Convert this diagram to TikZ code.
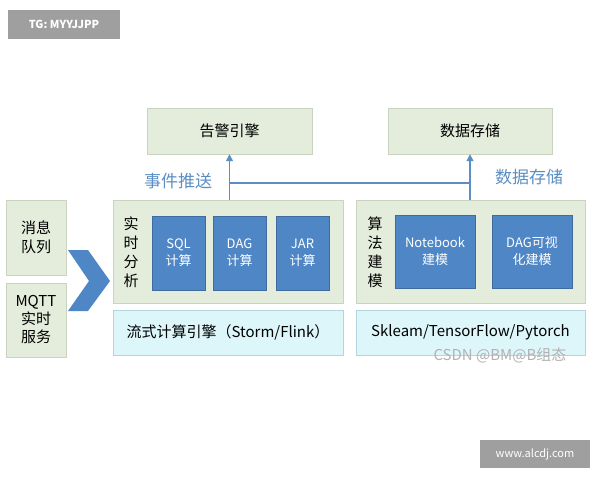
\documentclass[tikz,border=0pt]{standalone}
\usepackage{fontspec}
\setmainfont{Noto Sans CJK SC}
\usetikzlibrary{arrows.meta}
\definecolor{panel}{HTML}{E4ECDC}
\definecolor{panelline}{HTML}{C9D3C0}
\definecolor{calc}{HTML}{4F86C6}
\definecolor{engine}{HTML}{DDF6FA}
\definecolor{engineline}{HTML}{B5D5DC}
\definecolor{flow}{HTML}{5B8FC4}
\tikzset{
  panelbox/.style={draw=panelline,fill=panel,rectangle},
  calcbox/.style={draw=calc!80!black,fill=calc,text=white,align=center,font=\fontsize{13}{17}\selectfont},
  enginebox/.style={draw=engineline,fill=engine,font=\fontsize{15}{17}\selectfont},
  flowarrow/.style={-{Triangle[length=7pt,width=7pt]},flow,line width=1.2pt}
}
\begin{document}
\begin{tikzpicture}[x=1pt,y=-1pt]

% white background
\fill[white] (0,0) rectangle (600,480);
\useasboundingbox (0,0) rectangle (600,480);

% watermark tags
\fill[gray!75] (8,10) rectangle (120,39);
\node[text=white,font=\fontsize{11}{12}\selectfont\bfseries] (tag) at (64,24.5) {TG: MYYJJPP};
\fill[gray!75] (480,440) rectangle (590,468);
\node[text=white,font=\fontsize{11}{12}\selectfont] (site) at (535,454) {www.alcdj.com};

% output targets
\node[panelbox,minimum width=165pt,minimum height=46pt,font=\fontsize{15}{17}\selectfont] (alarm) at (229.5,131) {告警引擎};
\node[panelbox,minimum width=164pt,minimum height=46pt,font=\fontsize{15}{17}\selectfont] (store) at (470,131) {数据存储};

% inputs
\node[panelbox,minimum width=60pt,minimum height=75pt,align=center,font=\fontsize{15}{19}\selectfont] (queue) at (36,237.5) {消息\\队列};
\node[panelbox,minimum width=60pt,minimum height=74pt,align=center,font=\fontsize{15}{18}\selectfont] (mqtt) at (36,320) {MQTT\\实时\\服务};
\fill[calc] (68,250) -- (88,250) -- (110,281) -- (88,311) -- (68,311) -- (89,281) -- cycle;

% realtime analysis
\node[panelbox,minimum width=230pt,minimum height=103pt] (rt) at (228,251.5) {};
\node[align=center,font=\fontsize{15}{19}\selectfont] (rtlabel) at (131,252) {实\\时\\分\\析};
\node[calcbox,minimum width=53pt,minimum height=74pt] (sql) at (178.5,253) {SQL\\计算};
\node[calcbox,minimum width=53pt,minimum height=74pt] (dag) at (239.5,253) {DAG\\计算};
\node[calcbox,minimum width=53pt,minimum height=74pt] (jar) at (302.5,253) {JAR\\计算};
\node[enginebox,minimum width=230pt,minimum height=45pt] (storm) at (228,332.5) {流式计算引擎（Storm/Flink）};

% modelling
\node[panelbox,minimum width=229pt,minimum height=103pt] (ml) at (470.5,251.5) {};
\node[align=center,font=\fontsize{15}{19}\selectfont] (mllabel) at (375,252) {算\\法\\建\\模};
\node[calcbox,minimum width=80pt,minimum height=73pt] (nb) at (435,251.5) {Notebook\\建模};
\node[calcbox,minimum width=80pt,minimum height=73pt] (vis) at (532,251.5) {DAG可视\\化建模};
\node[enginebox,minimum width=229pt,minimum height=45pt] (sk) at (470.5,332.5) {Skleam/TensorFlow/Pytorch};

% connectors
\coordinate (split) at (alarm.south |- 0,183);
\draw[flowarrow] (rt.north -| alarm.south) -- (alarm.south);
\draw[flow,line width=1.2pt] (split) -- (split -| store.south);
\draw[flowarrow] (ml.north -| store.south) -- (store.south);
\node[text=flow,font=\fontsize{17}{19}\selectfont] (push) at (178,181) {事件推送};
\node[text=flow,font=\fontsize{17}{19}\selectfont] (save) at (529,177) {数据存储};

% csdn mark
\node[text=gray!60,font=\fontsize{15}{17}\selectfont] (csdn) at (500,355) {CSDN @BM@B组态};

\end{tikzpicture}
\end{document}
